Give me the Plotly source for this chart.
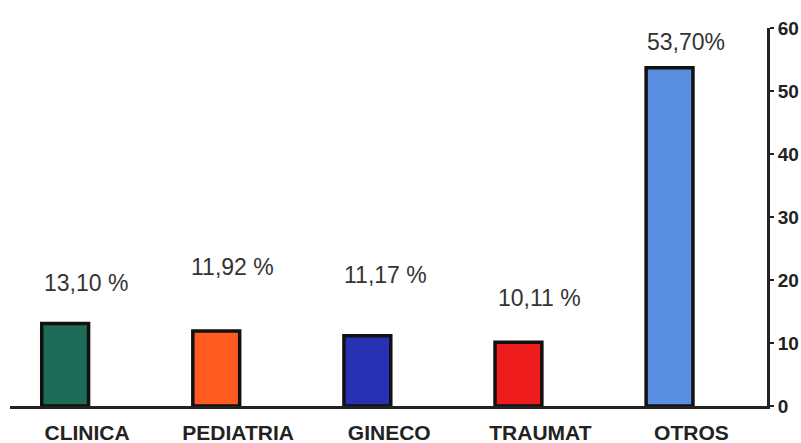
import plotly.graph_objects as go

# Distribution by service (percent)
categories = ["CLINICA", "PEDIATRIA", "GINECO", "TRAUMAT", "OTROS"]
values = [13.10, 11.92, 11.17, 10.11, 53.70]
value_labels = ["13,10 %", "11,92 %", "11,17 %", "10,11 %", "53,70%"]
bar_colors = ["#1e6b58", "#ff5a20", "#2830b4", "#ee1c1c", "#5a8ee0"]

# Label placement relative to each bar top (pixels)
label_dx = [-1, -6, -4, -1, -5]
label_dy = [40, 64, 61, 44, 26]

FONT = "Arial, Liberation Sans, sans-serif"

fig = go.Figure()
fig.add_trace(go.Bar(
    x=categories,
    y=values,
    marker=dict(color=bar_colors, line=dict(color="#111111", width=3.5)),
    width=0.31,
    offset=-0.30,
    showlegend=False,
    hoverinfo="skip",
))

for cat, val, txt, dx, dy in zip(categories, values, value_labels, label_dx, label_dy):
    fig.add_annotation(
        x=cat, y=val, text=txt, showarrow=False,
        xshift=dx, yshift=dy,
        font=dict(family=FONT, size=23, color="#333333"),
    )

fig.update_layout(
    width=801, height=443,
    margin=dict(l=10, r=34, t=28, b=37),
    paper_bgcolor="white", plot_bgcolor="white",
    xaxis=dict(
        range=[-0.51, 4.50],
        automargin=False,
        showline=True, linecolor="#222222", linewidth=3,
        ticks="", showgrid=False, zeroline=False,
        ticklabelstandoff=6,
        tickfont=dict(family=FONT, size=21, color="#222222", weight="bold"),
    ),
    yaxis=dict(
        side="right", range=[0, 60], dtick=10,
        automargin=False,
        showline=True, linecolor="#222222", linewidth=3,
        ticks="outside", ticklen=4, tickwidth=2, tickcolor="#222222",
        ticklabelstandoff=0,
        showgrid=False, zeroline=False,
        tickfont=dict(family=FONT, size=19, color="#222222", weight="bold"),
    ),
)

fig.write_html("out.html")
